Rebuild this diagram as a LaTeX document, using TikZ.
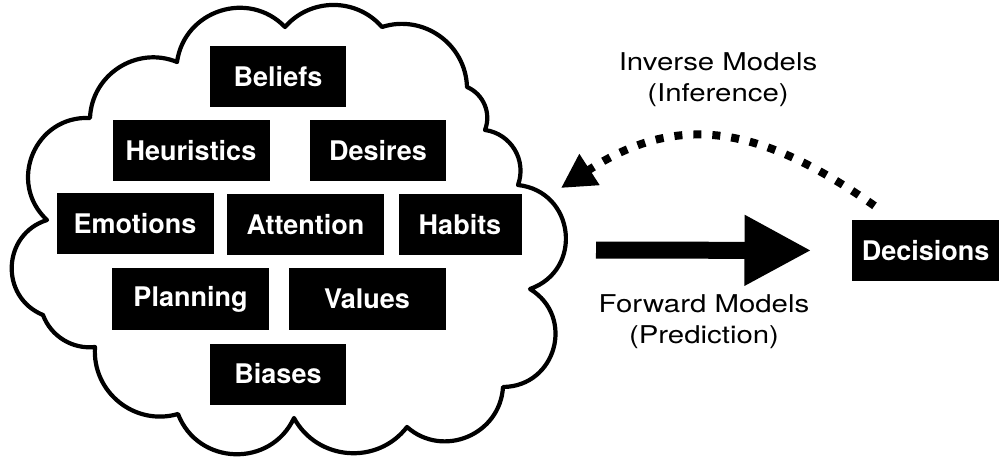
\documentclass[tikz,border=0pt]{standalone}
\usepackage{fontspec}
\setmainfont{TeX Gyre Heros}
\newfontfamily\labelfont[FakeStretch=1.2]{TeX Gyre Heros}
\usetikzlibrary{positioning,arrows.meta,calc}

\begin{document}
\begin{tikzpicture}[x=1pt, y=1pt,
      trait/.style={rectangle, fill=black, text=white, inner sep=0pt, minimum height=61pt, minimum width=136pt, font=\fontsize{27}{32}\selectfont\bfseries},
      wide/.style={trait, minimum width=157pt},
      caption/.style={align=center, font=\labelfont\fontsize{24.5}{31}\selectfont},
      puff/.style 2 args={bend left=#1, looseness=#2},
      cloudline/.style={line width=4.2pt, line join=round, line cap=round}
      ]
      \useasboundingbox (0,0) rectangle (999,-457);
      % the cloud of mental states
      \draw[cloudline] (177,-62) to[puff={64}{1.18}] (285,-27)
        to[puff={49}{1.03}] (382,-27) to[puff={53}{1.06}] (467,-87)
        to[puff={44}{0.99}] (485,-130) to[puff={51}{1.05}] (518,-185)
        to[puff={77}{1.40}] (530,-289) to[puff={74}{1.34}] (503,-387)
        to[puff={64}{1.18}] (407,-427) to[puff={57}{1.10}] (294,-418)
        to[puff={67}{1.22}] (178,-414) to[puff={55}{1.08}] (95,-347)
        to[puff={38}{0.95}] (43,-315) to[puff={70}{1.27}] (47,-220)
        to[puff={70}{1.27}] (90,-118) to[puff={55}{1.08}] (177,-62);
      \coordinate (CLDE) at (566,-250);
      \coordinate (CLDNE) at (561,-188);
      \node[trait] (BEL) at (278,-77) {Beliefs};
      \node[wide] (HEU) at (191,-151) {Heuristics};
      \node[trait] (DES) at (378,-151) {Desires};
      \node[wide] (EMO) at (135,-224) {Emotions};
      \node[wide] (ATT) at (305.5,-225) {Attention};
      \node[trait, minimum width=123pt] (HAB) at (460,-225) {Habits};
      \node[wide] (PLA) at (190.5,-299) {Planning};
      \node[wide] (VAL) at (367,-299) {Values};
      \node[trait] (BIA) at (278,-374) {Biases};
      \node[trait, minimum width=148pt] (DEC) at (925.7,-250.5) {Decisions};
      \node[caption] (INV) at (718,-79.5) {Inverse Models\\(Inference)};
      \node[caption] (FWD) at (704,-322) {Forward Models\\(Prediction)};
      \draw[-{Triangle[length=67pt,width=66pt]}, line width=17pt, shorten <=30pt, shorten >=40pt] (CLDE) -- (DEC.west);
      \draw[-{Triangle[length=34pt,width=35pt]}, line width=8pt, dash pattern=on 8pt off 11pt] ([shift={(23pt,14pt)}]DEC.north west) to[out=145, in=33, looseness=1.14] (CLDNE);
    \end{tikzpicture}
\end{document}
